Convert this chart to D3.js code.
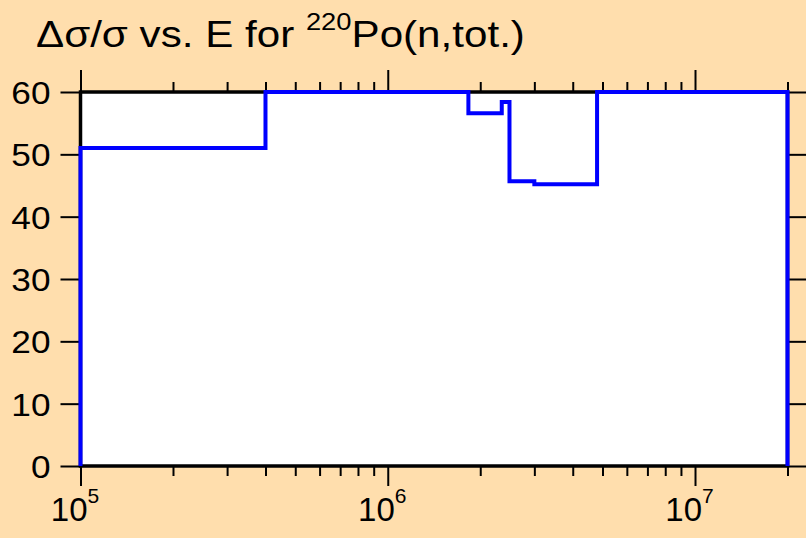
<!DOCTYPE html>
<html>
<head>
<meta charset="utf-8" />
<title>dsig/sig vs E</title>
<style>
  html, body { margin: 0; padding: 0; background: #FFDEAD; }
  svg { display: block; }
  text { font-family: "Liberation Sans", Arial, sans-serif; fill: #000; }
</style>
</head>
<body>
<svg width="806" height="538"></svg>
<script src="https://cdn.jsdelivr.net/npm/d3@7"></script>
<script>
// step edges (eV) and the relative uncertainty in each bin (%)
var edges = [1e5, 4e5, 1.83e6, 2.35e6, 2.49e6, 3.0e6, 4.8e6, 2e7];
var values = [51.0, 60.0, 56.6, 58.4, 45.7, 45.2, 60.0];
var yTicks = [0, 10, 20, 30, 40, 50, 60];
var xMajor = [1e5, 1e6, 1e7];

var svg = d3.select("svg"),
    width = +svg.attr("width"),
    height = +svg.attr("height");

var margin = {left: 80.5, right: 18.5, top: 92, bottom: 72};
var x = d3.scaleLog().domain([1e5, 2e7]).range([margin.left, width - margin.right]);
var y = d3.scaleLinear().domain([0, 60]).range([height - margin.bottom, margin.top]);

// plot background
svg.append("rect")
  .attr("x", x.range()[0]).attr("y", y(60))
  .attr("width", x.range()[1] - x.range()[0])
  .attr("height", y(0) - y(60))
  .attr("fill", "#fff");

// minor ticks 2..9 per decade
var xMinor = [];
[1e5, 1e6, 1e7].forEach(function(d) {
  for (var k = 2; k <= 9; k++) if (d * k <= 2e7) xMinor.push(d * k);
});

function styleAxis(g) {
  g.select(".domain").remove();
  g.selectAll("line").attr("stroke", "#000").attr("stroke-width", 2);
}

// bottom
svg.append("g").attr("transform", "translate(0," + y(0) + ")")
  .call(d3.axisBottom(x).tickValues(xMinor).tickSize(10).tickFormat(""))
  .call(styleAxis);
var bottom = svg.append("g").attr("transform", "translate(0," + y(0) + ")")
  .call(d3.axisBottom(x).tickValues(xMajor).tickSize(20).tickFormat(""))
  .call(styleAxis);
bottom.selectAll(".tick").append("text")
  .attr("y", 55)
  .attr("text-anchor", "middle")
  .style("font-size", "33px")
  .each(function(d) {
    var t = d3.select(this);
    t.append("tspan").attr("dx", "-6").text("10");
    t.append("tspan").attr("dy", -18).style("font-size", "21px").text(Math.round(Math.log10(d)));
  });

// top
svg.append("g").attr("transform", "translate(0," + y(60) + ")")
  .call(d3.axisTop(x).tickValues(xMinor).tickSize(10).tickFormat(""))
  .call(styleAxis);
svg.append("g").attr("transform", "translate(0," + y(60) + ")")
  .call(d3.axisTop(x).tickValues(xMajor).tickSize(22).tickFormat(""))
  .call(styleAxis);

// left
var left = svg.append("g").attr("transform", "translate(" + x(1e5) + ",0)")
  .call(d3.axisLeft(y).tickValues(yTicks).tickSize(20))
  .call(styleAxis);
left.selectAll("text")
  .attr("x", 0).attr("dy", "0.36em")
  .attr("transform", "translate(-30,0) scale(1.1,1)")
  .style("font-size", "32px");

// right
svg.append("g").attr("transform", "translate(" + x(2e7) + ",0)")
  .call(d3.axisRight(y).tickValues(yTicks).tickSize(20).tickFormat(""))
  .call(styleAxis);

// frame
svg.append("rect")
  .attr("x", x.range()[0]).attr("y", y(60))
  .attr("width", x.range()[1] - x.range()[0])
  .attr("height", y(0) - y(60))
  .attr("fill", "none").attr("stroke", "#000").attr("stroke-width", 3.5);

// step line
var pts = [[edges[0], 0]];
values.forEach(function(v, i) {
  pts.push([edges[i], v]);
  pts.push([edges[i + 1], v]);
});
pts.push([edges[edges.length - 1], 0]);

svg.append("path")
  .datum(pts)
  .attr("fill", "none")
  .attr("stroke", "#0000ff")
  .attr("stroke-width", 4)
  .attr("d", d3.line().x(function(d) { return x(d[0]); }).y(function(d) { return y(d[1]); }));

// title
var title = svg.append("text")
  .attr("x", 36).attr("y", 47)
  .style("font-size", "37px");
title.append("tspan").text("\u0394\u03c3/\u03c3 vs. E for ");
title.append("tspan").attr("dy", -17).style("font-size", "24px").text("220");
title.append("tspan").attr("dy", 17).text("Po(n,tot.)");
var tb = title.node().getBBox();
var sx = (525 - 36) / tb.width;
title.attr("transform", "translate(36,0) scale(" + sx + ",1) translate(-36,0)");
</script>
</body>
</html>
